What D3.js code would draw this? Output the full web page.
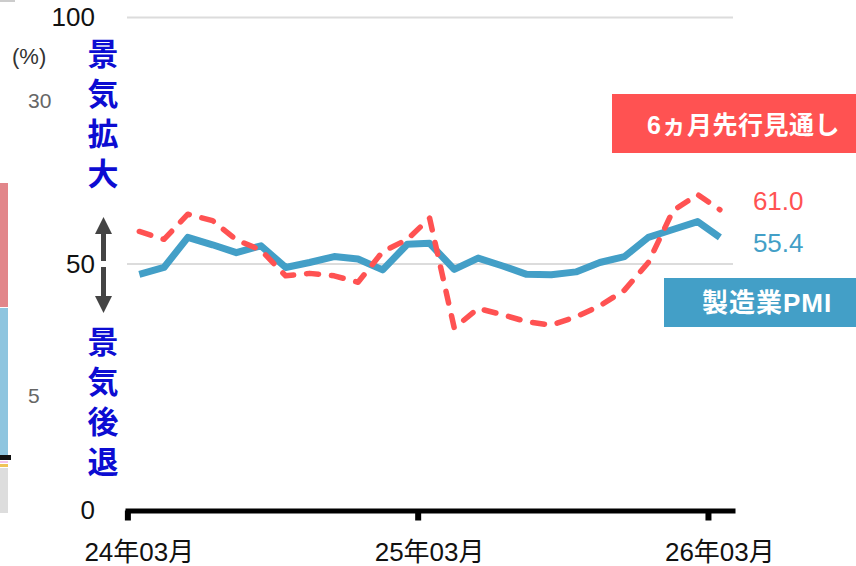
<!DOCTYPE html>
<html>
<head>
<meta charset="utf-8">
<script src="https://cdn.jsdelivr.net/npm/d3@7"></script>
<style>
  body { margin: 0; background: #fff; }
  svg { display: block; font-family: "Liberation Sans", "Noto Sans CJK JP", sans-serif; }
</style>
</head>
<body>
<svg width="856" height="566"></svg>
<script>
// monthly readings, Mar 2024 .. Mar 2026
const MONTHS = [
  '2024-03', '2024-04', '2024-05', '2024-06', '2024-07', '2024-08', '2024-09',
  '2024-10', '2024-11', '2024-12', '2025-01', '2025-02', '2025-03', '2025-04',
  '2025-05', '2025-06', '2025-07', '2025-08', '2025-09', '2025-10', '2025-11',
  '2025-12', '2026-01', '2026-02', '2026-03'
];
const PMI = [
  47.9, 49.3, 55.4, 53.9, 52.3, 53.7, 49.3, 50.3, 51.5, 51.0, 48.8, 54.0, 54.2,
  48.9, 51.2, 49.6, 47.9, 47.8, 48.4, 50.3, 51.5, 55.4, 57.0, 58.6, 55.4
];
const OUTLOOK = [
  56.6, 55.0, 60.1, 58.8, 54.9, 52.8, 47.6, 48.1, 47.6, 46.3, 52.5, 55.0, 59.3,
  37.0, 41.0, 39.7, 38.3, 37.6, 39.3, 41.5, 44.7, 50.3, 60.8, 64.1, 61.0
];
const SERIES_NAMES = ['製造業PMI', '6ヵ月先行見通し'];
const Y_TICKS = [0, 50, 100];
const GRID_VALUES = [50, 100];
const X_TICKS = ['2024-03', '2025-03', '2026-03'];
const X_LABELS = ['24年03月', '25年03月', '26年03月'];
const UP_TEXT = ['景', '気', '拡', '大'];
const DOWN_TEXT = ['景', '気', '後', '退'];

const BLUE = '#439fc7';
const RED = '#ff5252';

const parseMonth = d3.timeParse('%Y-%m');
const midMonth = (m) => d3.timeDay.offset(parseMonth(m), 15);

const svg = d3.select('svg');

const x = d3.scaleTime()
  .domain([new Date(2024, 1, 27), new Date(2026, 3, 4)])
  .range([125, 735]);
const y = d3.scaleLinear().domain([0, 100]).range([510.5, 17.5]);

// cropped edge of the neighbouring chart
const edge = svg.append('g');
edge.append('rect').attr('x', 0).attr('y', 0).attr('width', 15).attr('height', 2).attr('fill', '#ccc');
edge.append('rect').attr('x', 0).attr('y', 183).attr('width', 8).attr('height', 124).attr('fill', '#e2868a');
edge.append('rect').attr('x', 0).attr('y', 308).attr('width', 8).attr('height', 147).attr('fill', '#8ec5df');
edge.append('rect').attr('x', 0).attr('y', 455).attr('width', 11).attr('height', 5).attr('fill', '#111');
edge.append('rect').attr('x', 0).attr('y', 461).attr('width', 8).attr('height', 2).attr('fill', '#f3c2ea');
edge.append('rect').attr('x', 0).attr('y', 464).attr('width', 8).attr('height', 3).attr('fill', '#efc357');
edge.append('rect').attr('x', 0).attr('y', 468).attr('width', 8).attr('height', 45).attr('fill', '#ddd');
edge.append('text').attr('x', 12).attr('y', 64).attr('font-size', 22).attr('fill', '#333').text('(%)');
edge.append('text').attr('x', 28).attr('y', 108).attr('font-size', 21).attr('fill', '#666').text('30');
edge.append('text').attr('x', 28).attr('y', 403).attr('font-size', 21).attr('fill', '#666').text('5');

// grid
svg.append('g')
  .selectAll('line')
  .data(GRID_VALUES)
  .join('line')
  .attr('x1', 127)
  .attr('x2', 733)
  .attr('y1', (d) => y(d))
  .attr('y2', (d) => y(d))
  .attr('stroke', '#dcdcdc')
  .attr('stroke-width', 2);

// y labels
svg.append('g')
  .attr('transform', 'translate(95,0)')
  .call(d3.axisLeft(y).tickValues(Y_TICKS).tickSize(0).tickPadding(0))
  .call((g) => g.select('.domain').remove())
  .call((g) => g.selectAll('text')
    .attr('font-size', 26)
    .attr('font-family', '"Liberation Sans", sans-serif')
    .attr('fill', '#111'));

// x axis
svg.append('g')
  .attr('transform', `translate(0,${y(0)})`)
  .call(d3.axisBottom(x).tickValues(X_TICKS.map(parseMonth)).tickSize(10).tickSizeOuter(0).tickFormat(''))
  .call((g) => g.select('.domain').attr('stroke', '#000').attr('stroke-width', 5))
  .call((g) => g.selectAll('.tick line').attr('stroke', '#000').attr('stroke-width', 6));

svg.append('g')
  .selectAll('text')
  .data(X_TICKS)
  .join('text')
  .attr('x', (d) => x(midMonth(d)))
  .attr('y', 561)
  .attr('text-anchor', 'middle')
  .attr('font-size', 26)
  .attr('fill', '#111')
  .text((d, i) => X_LABELS[i]);

// lines
const line = d3.line()
  .x((d, i) => x(midMonth(MONTHS[i])))
  .y((d) => y(d));

svg.append('path')
  .datum(PMI)
  .attr('d', line)
  .attr('fill', 'none')
  .attr('stroke', BLUE)
  .attr('stroke-width', 7)
  .attr('stroke-linejoin', 'round');

svg.append('path')
  .datum(OUTLOOK)
  .attr('d', line)
  .attr('fill', 'none')
  .attr('stroke', RED)
  .attr('stroke-width', 5.5)
  .attr('stroke-dasharray', '12,13')
  .attr('stroke-linecap', 'round')
  .attr('stroke-linejoin', 'round');

// last values
const last = MONTHS.length - 1;
const lx = x(midMonth(MONTHS[last])) + 33;
svg.append('text')
  .attr('x', lx).attr('y', y(OUTLOOK[last]) + 0.5)
  .attr('font-size', 26).attr('fill', RED)
  .text(OUTLOOK[last].toFixed(1));
svg.append('text')
  .attr('x', lx).attr('y', y(PMI[last]) + 15)
  .attr('font-size', 26).attr('fill', BLUE)
  .text(PMI[last].toFixed(1));

// legend boxes
svg.append('rect').attr('x', 612).attr('y', 94).attr('width', 250).attr('height', 59).attr('fill', RED);
svg.append('text')
  .attr('x', 647).attr('y', 124.5)
  .attr('dominant-baseline', 'central')
  .attr('font-size', 25).attr('font-weight', 700).attr('fill', '#fff')
  .attr('letter-spacing', 0.5)
  .text(SERIES_NAMES[1]);

svg.append('rect').attr('x', 664).attr('y', 278).attr('width', 200).attr('height', 49).attr('fill', BLUE);
svg.append('text')
  .attr('x', 702).attr('y', 303)
  .attr('dominant-baseline', 'central')
  .attr('font-size', 26).attr('font-weight', 700).attr('fill', '#fff')
  .attr('letter-spacing', 1)
  .text(SERIES_NAMES[0]);

// up / down annotation
const ann = svg.append('g').attr('fill', '#0c0cd2').attr('font-size', 31).attr('font-weight', 700)
  .attr('text-anchor', 'middle').attr('dominant-baseline', 'central');
ann.selectAll('.up').data(UP_TEXT).join('text').attr('class', 'up')
  .attr('x', 103).attr('y', (d, i) => 54 + i * 40).text((d) => d);
ann.selectAll('.down').data(DOWN_TEXT).join('text').attr('class', 'down')
  .attr('x', 103).attr('y', (d, i) => 342 + i * 40).text((d) => d);

const y50 = y(50);
const arrow = svg.append('g').attr('fill', '#444');
arrow.append('rect').attr('x', 101).attr('y', y50 - 32).attr('width', 5).attr('height', 29);
arrow.append('rect').attr('x', 101).attr('y', y50 + 3).attr('width', 5).attr('height', 29);
arrow.append('path').attr('d', `M103.5,${y50 - 47}L112,${y50 - 30}L95,${y50 - 30}Z`);
arrow.append('path').attr('d', `M103.5,${y50 + 49}L112,${y50 + 32}L95,${y50 + 32}Z`);
</script>
</body>
</html>
